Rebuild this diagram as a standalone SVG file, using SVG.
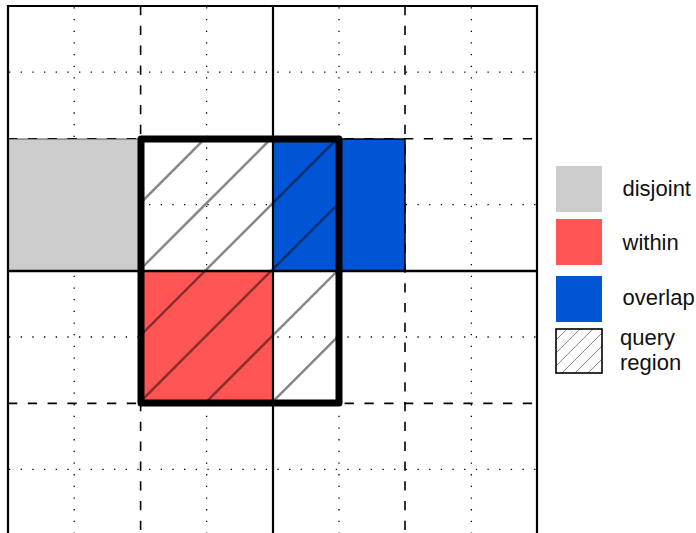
<svg xmlns="http://www.w3.org/2000/svg" width="696" height="533" viewBox="0 0 696 533">
<style>
.dot{stroke:#000;stroke-width:1.3;stroke-dasharray:1.3 10.37;fill:none}
.dash{stroke:#000;stroke-width:1.6;stroke-dasharray:9.3 10.5;fill:none}
.solid{stroke:#000;stroke-width:2.2;fill:none}
.hatch{stroke:#000;stroke-opacity:0.47;stroke-width:2.5}
.lhatch{stroke:#000;stroke-opacity:0.45;stroke-width:1}
.lbl{font-family:"Liberation Sans",Arial,sans-serif;font-size:22px;fill:#111}
</style>
<defs>
<clipPath id="qclip"><rect x="141" y="139" width="198" height="264"/></clipPath>
<clipPath id="lclip"><rect x="556" y="329" width="46" height="44"/></clipPath>
</defs>
<rect width="696" height="533" fill="#fff"/>
<g id="grid">
<g class="dot">
<line x1="8" y1="72.2" x2="537" y2="72.2" stroke-dashoffset="-1"/>
<line x1="8" y1="204.6" x2="537" y2="204.6" stroke-dashoffset="-1"/>
<line x1="8" y1="337" x2="537" y2="337" stroke-dashoffset="-1"/>
<line x1="8" y1="469.4" x2="537" y2="469.4" stroke-dashoffset="-1"/>
<line x1="74.2" y1="6" x2="74.2" y2="533" stroke-dashoffset="-1.3"/>
<line x1="206.6" y1="6" x2="206.6" y2="533" stroke-dashoffset="-1.3"/>
<line x1="339" y1="6" x2="339" y2="533" stroke-dashoffset="-1.3"/>
<line x1="471.4" y1="6" x2="471.4" y2="533" stroke-dashoffset="-1.3"/>
</g>
<g class="dash">
<line x1="8" y1="138.8" x2="537" y2="138.8"/>
<line x1="8" y1="403.4" x2="537" y2="403.4"/>
<line x1="140.6" y1="6" x2="140.6" y2="533"/>
<line x1="405" y1="6" x2="405" y2="533"/>
</g>
</g>
<g id="cells">
<rect id="disjoint-cell" x="8" y="139" width="132.6" height="132" fill="#cccccc" stroke="#333" stroke-width="0.8"/>
<rect id="within-cell" x="141" y="271" width="132" height="132" fill="#ff5555"/>
<rect id="overlap-cell" x="273" y="139" width="132" height="132" fill="#0055d4" stroke="#000" stroke-width="1.5"/>
</g>
<g id="solid-lines" class="solid">
<line x1="7" y1="6" x2="538" y2="6"/>
<line x1="8" y1="5" x2="8" y2="533"/>
<line x1="537" y1="5" x2="537" y2="533"/>
<line x1="273" y1="6" x2="273" y2="533"/>
<line x1="8" y1="271" x2="537" y2="271" stroke-width="2.6"/>
</g>
<g id="query-region">
<g clip-path="url(#qclip)" class="hatch">
<line x1="141" y1="202.5" x2="339" y2="4.5"/>
<line x1="141" y1="268.7" x2="339" y2="70.7"/>
<line x1="141" y1="334.9" x2="339" y2="136.9"/>
<line x1="141" y1="401.1" x2="339" y2="203.1"/>
<line x1="141" y1="467.3" x2="339" y2="269.3"/>
<line x1="141" y1="533.5" x2="339" y2="335.5"/>
</g>
<rect x="141" y="139" width="198" height="264" fill="none" stroke="#000" stroke-width="7" stroke-linejoin="round"/>
</g>
<g id="legend">
<g id="legend-disjoint">
<rect x="556" y="166" width="46" height="46" fill="#cccccc"/>
<text class="lbl" x="622.5" y="196">disjoint</text>
</g>
<g id="legend-within">
<rect x="556" y="219" width="46" height="46" fill="#ff5555"/>
<text class="lbl" x="622.5" y="250">within</text>
</g>
<g id="legend-overlap">
<rect x="556" y="276" width="46" height="46" fill="#0055d4"/>
<text class="lbl" x="622.5" y="305">overlap</text>
</g>
<g id="legend-query">
<g clip-path="url(#lclip)" class="lhatch">
<line x1="556" y1="340" x2="602" y2="294"/>
<line x1="556" y1="353" x2="602" y2="307"/>
<line x1="556" y1="366" x2="602" y2="320"/>
<line x1="556" y1="379" x2="602" y2="333"/>
<line x1="556" y1="392" x2="602" y2="346"/>
<line x1="556" y1="405" x2="602" y2="359"/>
<line x1="556" y1="418" x2="602" y2="372"/>
</g>
<rect x="556" y="329" width="46" height="44" fill="none" stroke="#000" stroke-width="1.6"/>
<text class="lbl" x="620" y="345">query</text>
<text class="lbl" x="620" y="370">region</text>
</g>
</g>
</svg>
